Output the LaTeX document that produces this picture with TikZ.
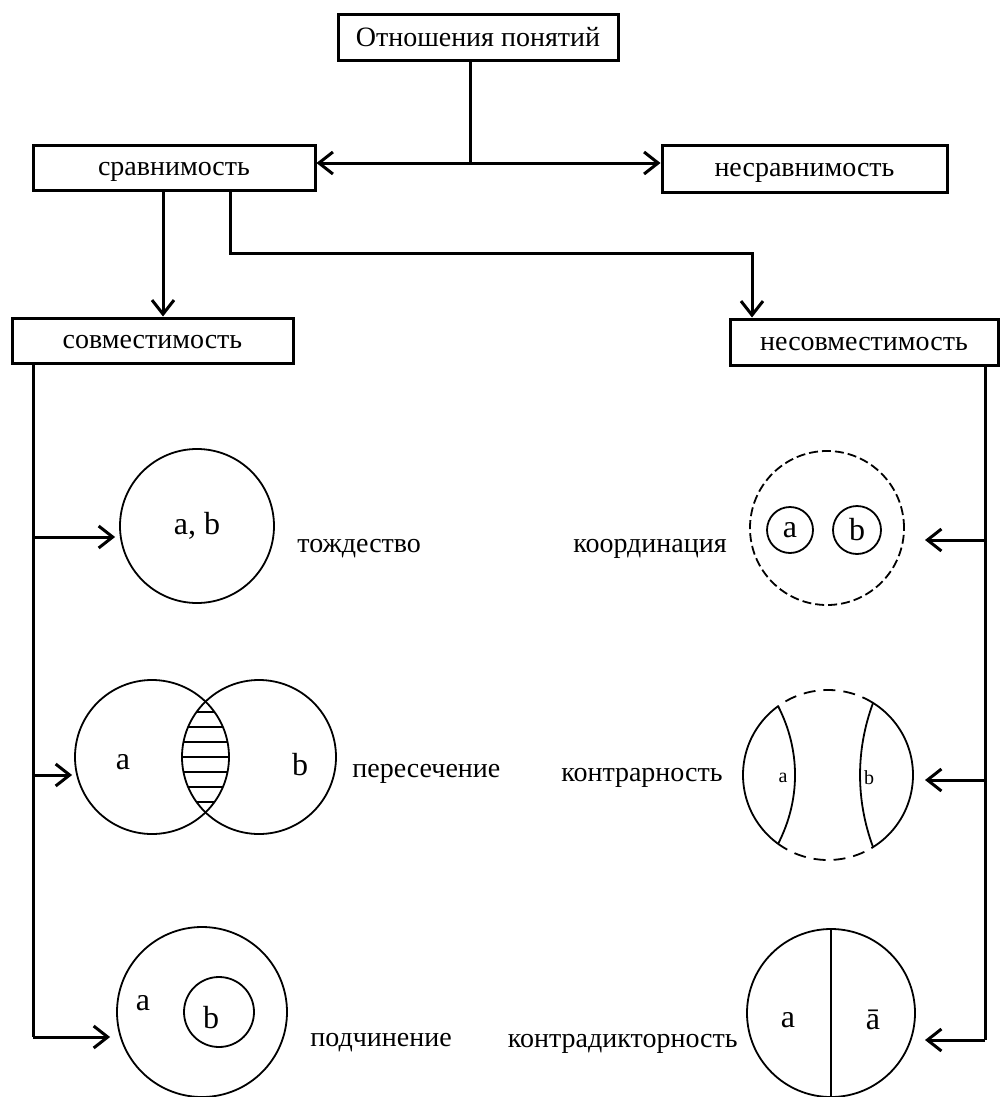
\documentclass[tikz,border=0pt]{standalone}
\usepackage{fontspec}
\setmainfont{Liberation Serif}
\usetikzlibrary{arrows.meta}
\begin{document}
\begin{tikzpicture}[x=0.5pt,y=-0.5pt,
  box/.style={draw, line width=1.5pt, inner sep=0pt, text height=8.2pt, text depth=0pt, font=\fontsize{14}{16}\selectfont},
  conn/.style={line width=1.5pt},
  arr/.style={conn, -{Straight Barb[length=7pt,width=11pt]}},
  ring/.style={draw, circle, line width=0.9pt, inner sep=0pt},
  thin/.style={line width=0.9pt},
  lbl/.style={font=\fontsize{14}{16}\selectfont, inner sep=0pt},
  letr/.style={font=\fontsize{16}{18}\selectfont, inner sep=0pt},
  smallletr/.style={font=\fontsize{10}{12}\selectfont, inner sep=0pt}
]
\useasboundingbox (0,0) rectangle (1003,1097);

% boxes
\node[box, minimum width=140pt, minimum height=23pt] (top) at (478,38) {Отношения понятий};
\node[box, minimum width=141pt, minimum height=22.5pt] (srav) at (174,167.5) {сравнимость};
\node[box, minimum width=142.5pt, minimum height=23.5pt] (nesrav) at (804.5,168.5) {несравнимость};
\node[box, minimum width=140.5pt, minimum height=22.5pt] (sovm) at (152.5,340.5) {совместимость};
\node[box, minimum width=134pt, minimum height=23pt] (nesovm) at (864,342) {несовместимость};

% helper coordinates
\coordinate (J) at (470,163);
\coordinate (D1) at (163,0);
\coordinate (D2) at (230,0);
\coordinate (B) at (752,253);
\coordinate (LX) at (33,0);
\coordinate (RX) at (985,0);

% top connectors
\draw[conn] (top.south -| J) -- (J);
\draw[arr] (J) -- (J -| srav.east);
\draw[arr] (J) -- (J -| nesrav.west);
\draw[arr] (srav.south -| D1) -- (sovm.north -| D1);
\draw[arr] (srav.south -| D2) |- (B) -- (nesovm.north -| B);

% left column figures
\node[ring, minimum size=77pt, letr] (c1) at (197,526) {a, b};
\node[lbl, anchor=base west] (t1) at (297,552) {тождество};

\node[ring, minimum size=77pt] (cA) at (152,757) {};
\node[ring, minimum size=77pt] (cB) at (259,757) {};
\begin{scope}
  \clip (152,757) circle [radius=77];
  \clip (259,757) circle [radius=77];
  \foreach \yy in {712,727,...,802} \draw[thin] (150,\yy) -- (260,\yy);
\end{scope}
\node[letr] (la) at (123,762) {a};
\node[letr] (lb) at (300,765) {b};
\node[lbl, anchor=base west] (t2) at (352,777) {пересечение};

\node[ring, minimum size=85pt] (c3) at (202,1012) {};
\node[ring, minimum size=35pt] (c3b) at (219,1012) {};
\node[letr] (l3a) at (143,1003) {a};
\node[letr] (l3b) at (211,1018) {b};
\node[lbl, anchor=base west] (t3) at (310,1046) {подчинение};

% left vertical line and arrows
\coordinate (L1) at (33,537);
\coordinate (L2) at (33,775);
\coordinate (L3) at (33,1037);
\draw[conn] (sovm.south -| LX) -- (L3);
\draw[arr] (L1) -- ([xshift=-2pt]L1 -| c1.west);
\draw[arr] (L2) -- ([xshift=-1pt]L2 -| cA.west);
\draw[arr] (L3) -- ([xshift=-3pt]L3 -| c3.west);

% right column figures
\node[ring, minimum size=77pt, dash pattern=on 4.5pt off 2pt] (c4) at (827,528) {};
\node[ring, minimum size=23pt, letr] (c4a) at (790,530) {a};
\node[ring, minimum size=24pt, letr] (c4b) at (857,530) {b};
\node[lbl, anchor=base east] (t4) at (727,552) {координация};

\node[circle, minimum size=85pt, inner sep=0pt] (c5) at (828,775) {};
\begin{scope}
  \clip (700,650) rectangle (778,900);
  \draw[thin] (828,775) circle [radius=85];
\end{scope}
\begin{scope}
  \clip (873,650) rectangle (960,900);
  \draw[thin] (828,775) circle [radius=85];
\end{scope}
\begin{scope}
  \clip (778,650) rectangle (873,900);
  \draw[thin, dash pattern=on 6pt off 4pt, dash phase=2pt] (828,775) circle [radius=85];
\end{scope}
\draw[thin] (778,706) .. controls (800.7,750) and (800.7,800) .. (778,844);
\draw[thin] (873,703) .. controls (855.7,750) and (855.7,800) .. (873,847);
\node[smallletr] (l5a) at (783,778) {a};
\node[smallletr] (l5b) at (869,778) {b};
\node[lbl, anchor=base east] (t5) at (723,781) {контрарность};

\node[ring, minimum size=84pt] (c6) at (831,1013) {};
\draw[thin] (c6.north) -- (c6.south);
\node[letr] (l6a) at (788,1020) {a};
\node[letr] (l6b) at (873,1020) {ā};
\node[lbl, anchor=base east] (t6) at (738,1047) {контрадикторность};

% right vertical line and arrows
\coordinate (R1) at (985,540);
\coordinate (R2) at (985,780);
\coordinate (R3) at (985,1040);
\draw[conn] (nesovm.south -| RX) -- (R3);
\draw[arr] (R1) -- (925,540);
\draw[arr] (R2) -- (925,780);
\draw[arr] (R3) -- (925,1040);
\end{tikzpicture}
\end{document}
